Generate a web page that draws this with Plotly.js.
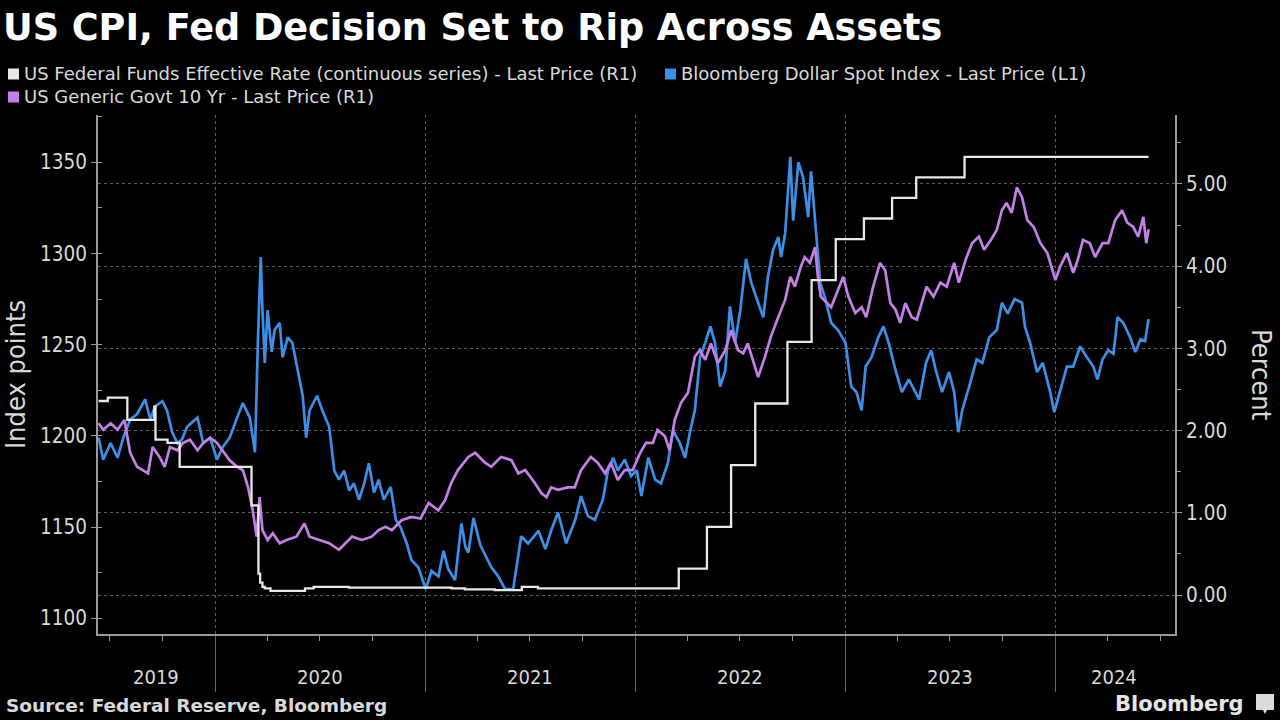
<!DOCTYPE html>
<html>
<head>
<meta charset="utf-8">
<script src="https://cdn.plot.ly/plotly-3.0.1.min.js"></script>
<style>
  html, body { margin: 0; padding: 0; background: #000; }
  #chart { width: 1280px; height: 720px; }
</style>
</head>
<body>
<div id="chart"></div>
<script>
// ---------------- DATA ----------------
const seriesNames = [
  "US Federal Funds Effective Rate (continuous series) - Last Price (R1)",
  "Bloomberg Dollar Spot Index - Last Price (L1)",
  "US Generic Govt 10 Yr - Last Price (R1)"
];

// Fed funds effective rate (percent, right axis) - step series
const fedDates = [
  "2019-06-12","2019-06-28","2019-08-01","2019-09-17","2019-09-19","2019-10-10","2019-10-31",
  "2020-03-04","2020-03-16","2020-03-19","2020-03-23","2020-03-27","2020-04-06","2020-06-05",
  "2020-06-20","2020-08-20","2020-12-01","2021-02-15","2021-03-10","2021-05-01","2021-06-17",
  "2021-07-15","2022-03-17","2022-05-05","2022-06-16","2022-07-28","2022-09-22","2022-11-03",
  "2022-12-15","2023-02-02","2023-03-23","2023-05-04","2023-07-27","2024-06-11"
];
const fedRate = [
  2.36, 2.40, 2.13, 2.29, 1.89, 1.85, 1.56,
  1.09, 0.26, 0.15, 0.10, 0.08, 0.05, 0.08,
  0.10, 0.09, 0.09, 0.08, 0.07, 0.06, 0.10,
  0.08, 0.32, 0.83, 1.58, 2.33, 3.08, 3.83,
  4.33, 4.58, 4.83, 5.08, 5.33, 5.33
];

// Bloomberg Dollar Spot Index (index points, left axis)
const dxyDates = [
  "2019-06-12","2019-06-20","2019-07-03","2019-07-15","2019-07-25","2019-08-06","2019-08-18","2019-09-01",
  "2019-09-10","2019-09-18","2019-10-01","2019-10-09","2019-10-18","2019-10-27","2019-11-04","2019-11-13",
  "2019-12-01","2019-12-11","2019-12-23","2020-01-04","2020-01-14","2020-01-26","2020-02-08","2020-02-18",
  "2020-03-01","2020-03-10","2020-03-15","2020-03-20","2020-03-23","2020-03-27","2020-04-01","2020-04-08",
  "2020-04-13","2020-04-22","2020-04-27","2020-05-06","2020-05-14","2020-05-23","2020-06-01","2020-06-07",
  "2020-06-13","2020-06-26","2020-07-05","2020-07-17","2020-07-26","2020-08-03","2020-08-12","2020-08-21",
  "2020-08-29","2020-09-07","2020-09-16","2020-09-24","2020-10-03","2020-10-11","2020-10-20","2020-11-01",
  "2020-11-10","2020-11-18","2020-11-29","2020-12-07","2020-12-19","2021-01-01","2021-01-11","2021-01-23",
  "2021-02-01","2021-02-09","2021-02-21","2021-03-04","2021-03-11","2021-03-16","2021-03-25","2021-04-06",
  "2021-04-16","2021-04-25","2021-05-07","2021-05-19","2021-06-02","2021-06-11","2021-06-16","2021-06-28",
  "2021-07-16","2021-07-28","2021-08-07","2021-08-19","2021-09-02","2021-09-18","2021-09-28","2021-10-10",
  "2021-10-22","2021-11-05","2021-11-14","2021-11-23","2021-12-01","2021-12-13","2021-12-24","2022-01-03",
  "2022-01-11","2022-01-23","2022-02-04","2022-02-14","2022-02-26","2022-03-07","2022-03-19","2022-03-28",
  "2022-04-06","2022-04-14","2022-04-23","2022-05-02","2022-05-11","2022-05-19","2022-05-28","2022-06-06",
  "2022-06-14","2022-06-23","2022-07-02","2022-07-12","2022-07-21","2022-08-02","2022-08-11","2022-08-19",
  "2022-08-28","2022-09-06","2022-09-11","2022-09-18","2022-09-27","2022-10-02","2022-10-11","2022-10-19",
  "2022-10-28","2022-11-02","2022-11-11","2022-11-18","2022-11-27","2022-12-07","2022-12-19","2023-01-01",
  "2023-01-11","2023-01-20","2023-01-29","2023-02-05","2023-02-15","2023-02-27","2023-03-08","2023-03-17",
  "2023-03-29","2023-04-09","2023-04-21","2023-05-03","2023-05-09","2023-05-21","2023-05-30","2023-06-07",
  "2023-06-18","2023-06-30","2023-07-09","2023-07-16","2023-07-23","2023-08-04","2023-08-17","2023-08-27",
  "2023-09-08","2023-09-21","2023-09-30","2023-10-10","2023-10-22","2023-11-04","2023-11-09","2023-11-18",
  "2023-11-30","2023-12-10","2023-12-23","2023-12-30","2024-01-09","2024-01-21","2024-02-01","2024-02-13",
  "2024-02-25","2024-03-07","2024-03-14","2024-03-23","2024-04-02","2024-04-11","2024-04-18","2024-04-28",
  "2024-05-10","2024-05-19","2024-05-28","2024-06-05","2024-06-11"
];
const dxyValues = [
  1199,1187,1196,1188,1199,1209,1212,1220,
  1209,1216,1219,1214,1202,1196,1198,1205,
  1210,1196,1199,1187,1194,1199,1210,1218,
  1210,1191,1251,1298,1269,1240,1269,1246,
  1258,1262,1243,1254,1251,1236,1222,1199,
  1214,1222,1214,1205,1181,1176,1181,1170,
  1174,1165,1174,1185,1169,1176,1165,1172,
  1154,1150,1141,1132,1128,1116,1126,1123,
  1137,1127,1121,1152,1139,1136,1155,1140,
  1134,1128,1123,1116,1116,1136,1145,1141,
  1148,1138,1148,1158,1141,1154,1167,1156,
  1154,1165,1181,1188,1181,1187,1178,1181,
  1167,1188,1176,1174,1185,1203,1196,1188,
  1203,1214,1243,1251,1260,1251,1227,1236,
  1271,1251,1269,1297,1284,1273,1265,1287,
  1302,1309,1298,1311,1353,1318,1350,1342,
  1320,1345,1309,1284,1275,1262,1258,1251,
  1227,1224,1214,1238,1243,1254,1260,1251,
  1236,1224,1231,1224,1220,1240,1247,1236,
  1224,1235,1224,1202,1214,1227,1242,1240,
  1254,1258,1273,1267,1275,1273,1260,1251,
  1235,1240,1224,1213,1225,1238,1238,1249,
  1243,1238,1231,1242,1247,1245,1265,1262,
  1254,1246,1253,1252,1264
];

// US Generic Govt 10 Yr yield (percent, right axis)
const ustDates = [
  "2019-06-12","2019-06-20","2019-07-03","2019-07-15","2019-07-27","2019-08-06","2019-08-18","2019-09-01",
  "2019-09-06","2019-09-14","2019-09-26","2019-10-05","2019-10-14","2019-10-27","2019-11-06","2019-11-18",
  "2019-12-01","2019-12-11","2019-12-23","2020-01-04","2020-01-14","2020-01-26","2020-02-08","2020-02-18",
  "2020-02-27","2020-03-06","2020-03-13","2020-03-18","2020-03-23","2020-04-01","2020-04-10","2020-04-22",
  "2020-05-04","2020-05-21","2020-06-04","2020-06-13","2020-06-30","2020-07-17","2020-08-03","2020-08-15",
  "2020-08-26","2020-09-12","2020-09-29","2020-10-11","2020-10-23","2020-11-03","2020-11-20","2020-12-07",
  "2020-12-23","2021-01-06","2021-01-23","2021-02-04","2021-02-14","2021-02-26","2021-03-16","2021-03-28",
  "2021-04-14","2021-04-25","2021-05-12","2021-05-30","2021-06-11","2021-06-23","2021-07-10","2021-07-21",
  "2021-07-30","2021-08-07","2021-08-19","2021-09-05","2021-09-17","2021-09-28","2021-10-15","2021-10-27",
  "2021-11-09","2021-11-19","2021-12-01","2021-12-13","2021-12-27","2022-01-09","2022-01-19","2022-01-31",
  "2022-02-08","2022-02-21","2022-03-01","2022-03-10","2022-03-21","2022-04-02","2022-04-14","2022-04-23",
  "2022-05-02","2022-05-12","2022-05-24","2022-06-06","2022-06-16","2022-06-28","2022-07-07","2022-07-15",
  "2022-07-28","2022-08-02","2022-08-14","2022-08-24","2022-09-06","2022-09-18","2022-09-27","2022-10-05",
  "2022-10-15","2022-10-22","2022-10-31","2022-11-09","2022-11-14","2022-11-19","2022-12-07","2022-12-19",
  "2022-12-28","2023-01-06","2023-01-18","2023-01-29","2023-02-06","2023-02-18","2023-03-02","2023-03-11",
  "2023-03-20","2023-03-29","2023-04-06","2023-04-15","2023-04-26","2023-05-05","2023-05-13","2023-05-22",
  "2023-06-03","2023-06-15","2023-06-26","2023-07-09","2023-07-17","2023-07-29","2023-08-09","2023-08-21",
  "2023-08-30","2023-09-11","2023-09-21","2023-09-30","2023-10-08","2023-10-17","2023-10-26","2023-11-04",
  "2023-11-13","2023-11-24","2023-12-06","2023-12-18","2023-12-27","2024-01-01","2024-01-09","2024-01-21",
  "2024-02-01","2024-02-09","2024-02-18","2024-03-01","2024-03-10","2024-03-23","2024-04-02","2024-04-14",
  "2024-04-26","2024-05-05","2024-05-15","2024-05-24","2024-06-02","2024-06-07","2024-06-11"
];
const ustYield = [
  2.09,2.01,2.09,2.01,2.13,1.73,1.56,1.50,
  1.48,1.80,1.68,1.56,1.80,1.76,1.85,1.89,
  1.76,1.85,1.91,1.85,1.76,1.64,1.56,1.52,
  1.31,1.03,0.71,1.19,0.79,0.67,0.75,0.63,
  0.67,0.71,0.87,0.71,0.67,0.63,0.55,0.63,
  0.71,0.67,0.71,0.79,0.83,0.79,0.91,0.95,
  0.93,1.12,1.03,1.16,1.36,1.52,1.68,1.73,
  1.61,1.56,1.68,1.64,1.48,1.52,1.36,1.24,
  1.19,1.31,1.28,1.31,1.31,1.52,1.68,1.61,
  1.48,1.61,1.40,1.52,1.52,1.73,1.85,1.85,
  2.01,1.93,1.76,2.13,2.34,2.46,2.90,2.98,
  2.86,3.06,2.82,2.98,3.22,2.98,2.94,3.06,
  2.74,2.65,2.90,3.14,3.38,3.59,3.87,3.75,
  3.99,4.11,4.04,4.23,3.87,3.63,3.50,3.71,
  3.87,3.63,3.43,3.50,3.38,3.75,4.04,3.95,
  3.55,3.47,3.31,3.55,3.38,3.35,3.55,3.75,
  3.63,3.80,3.75,4.04,3.80,4.08,4.28,4.36,
  4.20,4.32,4.44,4.68,4.77,4.65,4.96,4.84,
  4.56,4.48,4.28,4.16,3.95,3.83,3.99,4.16,
  3.92,4.08,4.32,4.28,4.11,4.28,4.28,4.56,
  4.68,4.53,4.48,4.36,4.60,4.28,4.45
];

// Axis labels
const yearLabels = ["2019","2020","2021","2022","2023","2024"];
const yearLabelDates = ["2019-09-20","2020-07-01","2021-07-02","2022-07-02","2023-07-02","2024-04-12"];
const leftTicks = [1100,1150,1200,1250,1300,1350];
const rightTicks = [0,1,2,3,4,5];

// ---------------- STYLE / LAYOUT ----------------
const COLORS = { fed: "#e8e8e8", dxy: "#3b8fe6", ust: "#c57fe8" };
const W = 1280, H = 720, M = { l: 98, r: 105, t: 115, b: 86 };
const PW = W - M.l - M.r, PH = H - M.t - M.b;
const px = x => (x - M.l) / PW;
const py = y => (H - M.b - y) / PH;
const COND = "DejaVu Sans Condensed, DejaVu Sans, Liberation Sans Narrow, sans-serif";
const SANS = "DejaVu Sans, Verdana, sans-serif";
const TXT = "#d9d9d9";

const traces = [
  { x: dxyDates, y: dxyValues, type: "scatter", mode: "lines", name: seriesNames[1],
    line: { color: COLORS.dxy, width: 2.7 }, yaxis: "y", hoverinfo: "skip" },
  { x: ustDates, y: ustYield, type: "scatter", mode: "lines", name: seriesNames[2],
    line: { color: COLORS.ust, width: 2.7 }, yaxis: "y2", hoverinfo: "skip" },
  { x: fedDates, y: fedRate, type: "scatter", mode: "lines", name: seriesNames[0],
    line: { color: COLORS.fed, width: 2.3, shape: "hv" }, yaxis: "y2", hoverinfo: "skip" }
];

const annotations = [];
const shapes = [];

// Legend (manual, square swatches)
const legendItems = [
  { name: seriesNames[0], color: COLORS.fed, sx: 8, tx: 22, y: 74 },
  { name: seriesNames[1], color: COLORS.dxy, sx: 665, tx: 679, y: 74 },
  { name: seriesNames[2], color: COLORS.ust, sx: 8, tx: 22, y: 97 }
];
legendItems.forEach(it => {
  shapes.push({ type: "rect", xref: "paper", yref: "paper",
    x0: px(it.sx), x1: px(it.sx + 11), y0: py(it.y + 5.5), y1: py(it.y - 5.5),
    fillcolor: it.color, line: { width: 0 } });
  annotations.push({ xref: "paper", yref: "paper", x: px(it.tx), y: py(it.y),
    xanchor: "left", yanchor: "middle", showarrow: false, text: it.name,
    font: { family: SANS, size: 18, color: TXT } });
});

// Year labels centred in each (visible) year
yearLabels.forEach((lab, i) => {
  annotations.push({ xref: "x", yref: "paper", x: yearLabelDates[i], y: py(677),
    xanchor: "center", yanchor: "middle", showarrow: false, text: lab,
    font: { family: COND, size: 20, color: TXT } });
});

// Right axis title (reads top to bottom)
annotations.push({ xref: "paper", yref: "paper", x: px(1262), y: py(375), textangle: 90,
  xanchor: "center", yanchor: "middle", showarrow: false, text: "Percent",
  font: { family: COND, size: 27, color: TXT } });

// Footer
annotations.push({ xref: "paper", yref: "paper", x: px(4), y: py(705), xanchor: "left", yanchor: "middle",
  showarrow: false, text: "<b>Source: Federal Reserve, Bloomberg</b>",
  font: { family: SANS, size: 18.5, color: TXT } });
annotations.push({ xref: "paper", yref: "paper", x: px(1246), y: py(704), xanchor: "right", yanchor: "middle",
  showarrow: false, text: "<b>Bloomberg</b>",
  font: { family: SANS, size: 21, color: "#e6e6e6" } });
// small logo badge
shapes.push({ type: "path", xref: "paper", yref: "paper",
  path: `M ${px(1256)},${py(694)} L ${px(1274)},${py(694)} L ${px(1274)},${py(710)} L ${px(1267)},${py(710)} L ${px(1265)},${py(714)} L ${px(1263)},${py(710)} L ${px(1256)},${py(710)} Z`,
  fillcolor: "#dcdcdc", line: { width: 0 } });

const axisLine = "#9a9a9a";
const layout = {
  width: W, height: H,
  paper_bgcolor: "#000", plot_bgcolor: "#000",
  margin: M,
  showlegend: false,
  title: { text: "<b>US CPI, Fed Decision Set to Rip Across Assets</b>",
    x: 3 / W, xanchor: "left", xref: "container", y: 1 - 27 / H, yanchor: "middle",
    font: { family: SANS, size: 36.6, color: "#ffffff" } },
  xaxis: {
    type: "date", range: ["2019-06-11", "2024-07-27"],
    showline: true, linecolor: axisLine, linewidth: 2,
    ticks: "outside", tick0: "2020-01-01", dtick: "M12", ticklen: 56, tickcolor: "#666", tickwidth: 1,
    showticklabels: false,
    showgrid: true, gridcolor: "#5a5a5a", griddash: "dot", gridwidth: 1,
    zeroline: false,
    minor: { tick0: "2020-01-01", dtick: "M3", ticks: "outside", ticklen: 5, tickcolor: axisLine, tickwidth: 1, showgrid: false }
  },
  yaxis: {
    range: [1091.4, 1375.9], tickmode: "array", tickvals: leftTicks, ticktext: leftTicks.map(String),
    showline: true, linecolor: axisLine, linewidth: 2,
    ticks: "outside", ticklen: 5, tickcolor: axisLine,
    tickfont: { family: COND, size: 20.5, color: TXT },
    showgrid: false, zeroline: false,
    minor: { dtick: 25, ticks: "inside", ticklen: 4, tickcolor: axisLine, showgrid: false },
    title: { text: "Index points", font: { family: COND, size: 27, color: TXT }, standoff: 8 }
  },
  yaxis2: {
    overlaying: "y", side: "right",
    range: [-0.474, 5.839], tickmode: "array", tickvals: rightTicks, ticktext: rightTicks.map(v => v.toFixed(2)),
    showline: true, linecolor: axisLine, linewidth: 2,
    ticks: "outside", ticklen: 5, tickcolor: axisLine,
    tickfont: { family: COND, size: 20.5, color: TXT },
    showgrid: true, gridcolor: "#5a5a5a", griddash: "dot", gridwidth: 1, zeroline: false,
    minor: { dtick: 0.5, ticks: "outside", ticklen: 4, tickcolor: axisLine, showgrid: false }
  },
  annotations: annotations,
  shapes: shapes
};

Plotly.newPlot("chart", traces, layout, { staticPlot: true, displayModeBar: false });
</script>
</body>
</html>
